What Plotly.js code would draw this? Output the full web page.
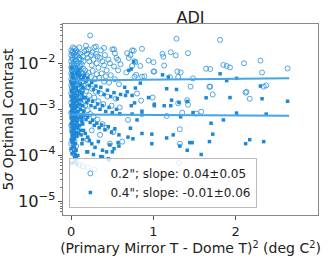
<!DOCTYPE html>
<html>
<head>
<meta charset="utf-8">
<script src="https://cdn.plot.ly/plotly-3.0.1.min.js"></script>
<style>html,body{margin:0;padding:0;background:#fff;}#chart{width:332px;height:266px;}</style>
</head>
<body>
<div id="chart"></div>
<script>
// 0.2" series (open circles)
const c2x = [
0.00,0.01,0.02,0.00,0.03,0.01,0.04,0.02,0.00,0.05,0.03,0.01,0.06,0.02,0.04,0.00,0.07,0.03,0.01,0.05,
0.02,0.08,0.00,0.04,0.06,0.01,0.03,0.09,0.02,0.05,0.00,0.07,0.04,0.01,0.10,0.03,0.06,0.02,0.00,0.08,
0.05,0.01,0.04,0.11,0.03,0.07,0.02,0.00,0.06,0.01,0.09,0.04,0.03,0.12,0.05,0.02,0.00,0.08,0.01,0.06,
0.04,0.10,0.03,0.02,0.00,0.07,0.05,0.01,0.13,0.03,0.09,0.04,0.02,0.06,0.00,0.11,0.01,0.05,0.03,0.08,
0.02,0.04,0.14,0.00,0.06,0.01,0.03,0.12,0.13,0.14,0.10,0.11,0.08,0.09,0.06,0.04,0.02,0.07,0.05,0.15,
0.15,0.14,0.13,0.12,0.11,0.10,0.09,0.08,0.07,0.13,0.15,0.14,0.12,0.11,0.10,0.15,0.14,0.12,0.10,0.09,
0.07,0.13,
0.16,0.18,0.19,0.20,0.21,0.22,0.24,0.25,0.26,0.27,0.28,0.30,0.31,0.32,0.33,0.35,0.36,0.38,0.40,0.41,
0.43,0.45,0.47,0.50,0.52,0.55,0.57,0.60,0.17,0.19,0.21,0.24,0.26,0.29,0.31,0.34,0.37,0.40,0.42,0.46,
0.48,0.53,0.58,0.16,0.18,0.20,0.22,0.25,0.28,0.30,0.33,0.36,0.39,0.44,0.49,0.54,0.59,0.17,0.20,0.23,
0.27,0.32,0.38,0.43,0.51,0.62,0.35,0.25,0.47,0.20,0.10,0.18,0.40,0.30,
1.28,1.81,0.23,0.86,0.52,0.53,1.11,1.21,1.42,1.12,0.76,0.68,0.57,0.94,1.00,0.78,2.10,2.30,1.85,1.89,
1.93,1.69,1.64,2.63,2.32,1.29,1.00,0.67,0.79,0.89,1.20,1.30,1.45,1.69,1.72,2.13,2.17,2.34,2.37,2.12,
0.72,0.74,0.70,1.27,0.77,0.74,0.84,1.13,1.33,1.01,0.77,0.86,1.48,1.68,0.80,0.85,0.99,1.30,1.41,1.42,
1.52,1.58,1.35,1.16,0.69,1.32,1.32,1.31,0.14,0.20,0.28,0.10
];
const c2y = [
0.019,0.017,0.018,0.015,0.016,0.013,0.014,0.012,0.011,0.012,0.010,0.0095,0.011,0.0085,0.009,0.008,0.0095,0.0075,0.007,0.0078,
0.0065,0.008,0.006,0.0062,0.0068,0.0055,0.0052,0.007,0.0048,0.0050,0.0045,0.0055,0.0042,0.0040,0.0060,0.0038,0.0040,0.0035,0.0033,0.0045,
0.0032,0.0030,0.0028,0.0050,0.0026,0.0034,0.0024,0.0022,0.0025,0.0020,0.0030,0.0019,0.0017,0.0038,0.0018,0.0015,0.0014,0.0022,0.0012,0.0014,
0.0011,0.0020,0.0010,0.00090,0.00085,0.0012,0.00080,0.00070,0.0025,0.00062,0.0010,0.00055,0.00050,0.00060,0.00045,0.0015,0.00038,0.00035,0.00030,0.00042,
0.00025,0.00020,0.0018,0.00018,0.00016,0.00013,0.00011,0.012,0.0095,0.014,0.013,0.016,0.017,0.012,0.019,0.021,0.022,0.015,0.017,0.011,
0.0075,0.0060,0.0048,0.0065,0.0085,0.0090,0.0055,0.0062,0.0072,0.0030,0.0040,0.0027,0.0022,0.0028,0.0035,0.0016,0.0011,0.00090,0.00065,0.00050,
0.00045,0.00070,
0.018,0.024,0.016,0.013,0.020,0.011,0.015,0.009,0.017,0.012,0.022,0.016,0.010,0.014,0.008,0.013,0.019,0.011,0.009,0.015,
0.007,0.012,0.010,0.020,0.0085,0.013,0.0070,0.0095,0.0070,0.0055,0.0062,0.0050,0.0068,0.0045,0.0058,0.0048,0.0060,0.0040,0.0052,0.0038,
0.0055,0.0045,0.0035,0.0032,0.0025,0.0030,0.0020,0.0028,0.0018,0.0024,0.0015,0.0022,0.0013,0.0019,0.0012,0.0017,0.0011,0.0012,0.00095,0.00080,
0.00070,0.00060,0.00048,0.00040,0.00032,0.00020,0.00028,0.00035,0.00018,0.00022,0.022,0.019,0.0215,0.023,
0.034,0.032,0.040,0.0205,0.020,0.0165,0.016,0.0173,0.0165,0.0138,0.0187,0.0165,0.0118,0.0114,0.0105,0.0105,0.010,0.0114,0.0092,0.0087,
0.0081,0.0075,0.0076,0.0077,0.0063,0.0066,0.0066,0.0063,0.0056,0.0052,0.0050,0.0050,0.0031,0.0031,0.0021,0.0024,0.0017,0.0031,0.0033,0.0023,
0.015,0.019,0.013,0.0148,0.011,0.0087,0.0087,0.0089,0.0063,0.0066,0.0051,0.0051,0.0047,0.0031,0.0022,0.00155,0.0018,0.00135,0.00158,0.00126,
0.00081,0.00089,0.00085,0.00072,0.00059,0.00037,0.00018,0.000069,0.000058,0.000055,0.000050,0.000062
];
// 0.4" series (filled squares)
const c4x = [
0.00,0.01,0.02,0.03,0.00,0.04,0.01,0.05,0.02,0.03,0.00,0.06,0.01,0.04,0.02,0.07,0.00,0.05,0.03,0.01,
0.08,0.02,0.06,0.04,0.00,0.03,0.09,0.01,0.05,0.02,0.07,0.00,0.04,0.03,0.10,0.01,0.06,0.02,0.05,0.00,
0.08,0.03,0.04,0.01,0.11,0.02,0.07,0.00,0.06,0.03,0.09,0.01,0.05,0.04,0.02,0.12,0.00,0.08,0.03,0.01,
0.06,0.05,0.02,0.10,0.04,0.00,0.07,0.03,0.01,0.13,0.05,0.02,0.09,0.04,0.00,0.06,0.03,0.11,0.01,0.05,
0.08,0.04,0.06,0.05,0.14,0.12,0.10,0.13,0.15,0.11,0.14,0.12,0.15,0.13,0.14,0.12,0.15,0.14,0.13,0.09,
0.07,0.15,0.10,
0.16,0.18,0.20,0.22,0.25,0.27,0.30,0.33,0.36,0.40,0.44,0.48,0.52,0.56,0.60,0.17,0.19,0.21,0.24,0.26,
0.29,0.32,0.35,0.38,0.42,0.46,0.50,0.55,0.59,0.16,0.18,0.20,0.23,0.26,0.28,0.31,0.34,0.37,0.41,0.45,
0.49,0.53,0.58,0.17,0.20,0.22,0.25,0.29,0.33,0.38,0.43,0.47,0.52,0.57,0.19,0.27,0.36,0.45,0.20,0.38,
0.46,0.50,0.58,0.65,
1.81,1.89,2.01,2.30,1.93,2.32,2.63,2.01,2.37,1.85,2.12,2.17,2.34,1.11,1.18,0.84,0.78,0.68,0.66,1.16,
1.28,0.74,0.94,0.77,0.73,1.01,1.01,1.13,1.21,1.22,1.31,1.41,1.64,1.48,1.33,0.86,0.74,0.86,0.80,0.72,
0.69,0.75,0.86,0.98,0.98,1.16,1.24,1.70,1.72,1.68,1.44,1.47,1.41,1.58,1.32,0.73,0.70,0.76,
0.03,0.07,0.00
];
const c4y = [
0.0080,0.0060,0.0050,0.0045,0.0040,0.0038,0.0035,0.0042,0.0032,0.0028,0.0026,0.0030,0.0024,0.0022,0.0020,0.0025,0.0019,0.0018,0.0017,0.0016,
0.0020,0.0014,0.0015,0.0013,0.0012,0.0011,0.0016,0.0010,0.00105,0.00095,0.0012,0.00088,0.00085,0.00080,0.0013,0.00075,0.00078,0.00070,0.00068,0.00065,
0.00090,0.00060,0.00058,0.00055,0.0010,0.00050,0.00055,0.00048,0.00046,0.00044,0.00065,0.00040,0.00042,0.00038,0.00035,0.00075,0.00033,0.00040,0.00030,0.00028,
0.00032,0.00027,0.00025,0.00045,0.00023,0.00022,0.00026,0.00020,0.00019,0.00055,0.00018,0.00016,0.00030,0.00015,0.00014,0.00013,0.00012,0.00035,0.00011,0.000105,
0.00010,0.000090,0.000085,0.000075,0.0030,0.0045,0.0055,0.0022,0.0018,0.0035,0.0012,0.0016,0.00090,0.00065,0.00048,0.00028,0.00035,0.00022,0.00018,0.0070,
0.0060,0.0050,0.0024,
0.0055,0.0040,0.0048,0.0033,0.0038,0.0027,0.0032,0.0024,0.0030,0.0021,0.0026,0.0019,0.0023,0.0017,0.0021,0.0018,0.0014,0.0016,0.0012,0.0015,
0.0011,0.0013,0.0010,0.0012,0.00090,0.0011,0.00085,0.0010,0.00080,0.00075,0.00060,0.00068,0.00052,0.00058,0.00045,0.00050,0.00040,0.00046,0.00036,0.00042,
0.00032,0.00038,0.00028,0.00030,0.00025,0.00021,0.00018,0.00015,0.00020,0.00013,0.00012,0.00017,0.00014,0.00019,0.00012,0.000105,0.000095,0.000085,0.00012,0.000093,
0.000080,0.00012,0.00016,0.0030,
0.0059,0.0042,0.0047,0.0032,0.0018,0.0017,0.0015,0.00083,0.00079,0.00059,0.00018,0.00022,0.00020,0.0056,0.0050,0.0037,0.0029,0.0024,0.0020,0.0028,
0.0027,0.0020,0.0018,0.00138,0.0012,0.00129,0.0012,0.0012,0.0012,0.00158,0.00141,0.00148,0.00178,0.00085,0.00069,0.00076,0.00079,0.00091,0.00059,0.00039,
0.00025,0.00023,0.00030,0.00029,0.00018,0.00024,0.00028,0.00050,0.00029,0.00020,0.00019,0.00019,0.00013,0.000105,0.00016,0.0075,0.0070,0.0108,
0.000070,0.000065,0.000068
];
// fit lines
const fitX = [0, 2.65];
const fit2 = [0.0042, 0.0047];
const fit4 = [0.00077, 0.00073];
const labels = ['0.2"; slope: 0.04±0.05', '0.4"; slope: -0.01±0.06'];

const FONT = 'DejaVu Sans, Liberation Sans, sans-serif';
const circCol = 'rgba(40,145,220,0.8)';
const sqCol = 'rgb(30,136,214)';
const lineCol = 'rgb(70,165,230)';

const traces = [
  {x: c2x, y: c2y, type: 'scatter', mode: 'markers', name: labels[0],
   marker: {symbol: 'circle-open', size: 5, color: circCol, line: {width: 1, color: circCol}}},
  {x: c4x, y: c4y, type: 'scatter', mode: 'markers', name: labels[1],
   marker: {symbol: 'square', size: 3.5, color: sqCol, line: {width: 0}}},
  {x: fitX, y: fit2, type: 'scatter', mode: 'lines', showlegend: false,
   line: {color: lineCol, width: 2}},
  {x: fitX, y: fit4, type: 'scatter', mode: 'lines', showlegend: false,
   line: {color: lineCol, width: 2}}
];

const layout = {
  width: 332, height: 266,
  margin: {l: 63, r: 14, t: 24, b: 51, pad: 0},
  paper_bgcolor: '#fff', plot_bgcolor: '#fff',
  font: {family: FONT, size: 12, color: '#222'},
  title: {text: 'ADI', x: 0.5, xref: 'paper', y: 0.936, yref: 'container', yanchor: 'middle',
          font: {family: FONT, size: 16, color: '#222'}},
  xaxis: {range: [-0.1, 3.0], tickvals: [0, 1, 2], ticktext: ['0', '1', '2'],
          ticks: 'outside', ticklen: 4, tickcolor: '#555', showgrid: false, zeroline: false,
          showline: true, mirror: true, linecolor: '#888', linewidth: 1,
          tickfont: {family: FONT, size: 13, color: '#222'},
          title: {text: '(Primary Mirror T - Dome T)<sup>2</sup> (deg C<sup>2</sup>)', standoff: 3,
                  font: {family: FONT, size: 14, color: '#222'}}},
  yaxis: {type: 'log', range: [-5.29, -1.15], dtick: 1, exponentformat: 'power',
          ticks: 'outside', ticklen: 4, tickcolor: '#555', showgrid: false, zeroline: false,
          minor: {ticks: 'outside', ticklen: 2, tickcolor: '#777', showgrid: false},
          showline: true, mirror: true, linecolor: '#888', linewidth: 1,
          tickfont: {family: FONT, size: 13, color: '#222'},
          title: {text: '5<i>σ</i> Optimal Contrast', standoff: 4,
                  font: {family: FONT, size: 14, color: '#222'}}},
  legend: {x: 0.025, y: 0.037, xanchor: 'left', yanchor: 'bottom',
           bgcolor: 'rgba(255,255,255,0.8)', bordercolor: '#bbb', borderwidth: 1,
           font: {family: FONT, size: 12, color: '#222'}, itemwidth: 30, tracegroupgap: 0},
  showlegend: true
};

Plotly.newPlot('chart', traces, layout, {displayModeBar: false, staticPlot: true});
</script>
</body>
</html>
